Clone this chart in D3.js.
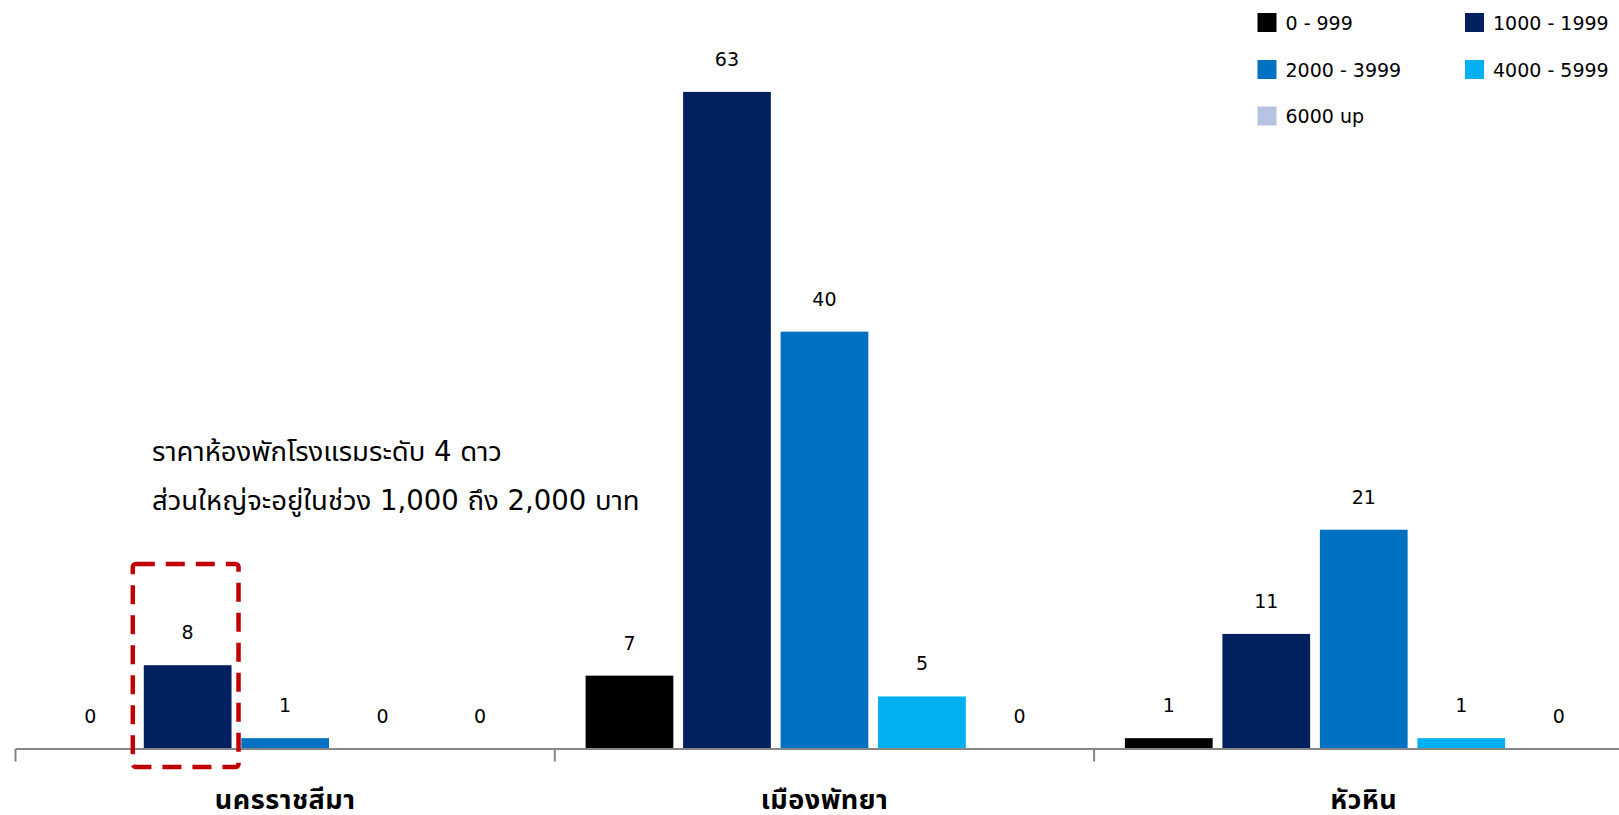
<!DOCTYPE html>
<html>
<head>
<meta charset="utf-8">
<script src="https://cdn.jsdelivr.net/npm/d3@7"></script>
<style>
  html, body { margin: 0; padding: 0; background: #ffffff; }
  svg { display: block; }
  text { font-family: "DejaVu Sans", Tahoma, "Noto Sans Thai", sans-serif; }
</style>
</head>
<body>
<div id="chart"></div>
<script>
// ---- data ----
const categories = ["นครราชสีมา", "เมืองพัทยา", "หัวหิน"];
const seriesNames = ["0 - 999", "1000 - 1999", "2000 - 3999", "4000 - 5999", "6000 up"];
const s0to999 = [0, 7, 1];
const s1000to1999 = [8, 63, 11];
const s2000to3999 = [1, 40, 21];
const s4000to5999 = [0, 5, 1];
const s6000up = [0, 0, 0];
const seriesColors = ["#000000", "#002060", "#0070C0", "#00B0F0", "#B7C3E2"];
const noteLines = ["ราคาห้องพักโรงแรมระดับ 4 ดาว", "ส่วนใหญ่จะอยู่ในช่วง 1,000 ถึง 2,000 บาท"];
const yMax = 70;

const seriesValues = [s0to999, s1000to1999, s2000to3999, s4000to5999, s6000up];

const W = 1619, H = 815;
const svg = d3.select("#chart").append("svg").attr("width", W).attr("height", H);

const axisY = 748.6;
const x0 = d3.scaleBand().domain(categories).range([15.5, 15.5 + 3 * 539.3]).paddingInner(0).paddingOuter(0);
const x1 = d3.scaleBand().domain(seriesNames).range([0, x0.bandwidth()]).paddingInner(0.1).paddingOuter(0.316);
const y = d3.scaleLinear().domain([0, yMax]).range([axisY, axisY - yMax * 10.424]);

const rows = [];
categories.forEach((c, ci) => {
  seriesNames.forEach((s, si) => {
    rows.push({ cat: c, ser: s, si, value: seriesValues[si][ci] });
  });
});

// bars
svg.append("g").selectAll("rect").data(rows).join("rect")
  .attr("x", d => x0(d.cat) + x1(d.ser))
  .attr("y", d => y(d.value))
  .attr("width", x1.bandwidth())
  .attr("height", d => axisY - y(d.value))
  .attr("fill", d => seriesColors[d.si]);

// value labels
svg.append("g").selectAll("text").data(rows).join("text")
  .attr("x", d => x0(d.cat) + x1(d.ser) + x1.bandwidth() / 2)
  .attr("y", d => y(d.value) - 33)
  .attr("text-anchor", "middle")
  .attr("dominant-baseline", "central")
  .attr("font-size", 19)
  .attr("fill", "#000")
  .text(d => d.value);

// x axis
const xAxis = d3.axisBottom(x0).tickSize(0).tickFormat("");
const axisG = svg.append("g").attr("transform", `translate(0,${axisY})`).call(xAxis);
axisG.select(".domain").attr("stroke", "#868686").attr("stroke-width", 2);
axisG.selectAll(".tick").remove();
// category boundary ticks
const bounds = categories.map(c => x0(c));
axisG.selectAll("line.bound").data(bounds).join("line")
  .attr("class", "bound")
  .attr("x1", d => d).attr("x2", d => d)
  .attr("y1", 0).attr("y2", 13)
  .attr("stroke", "#868686").attr("stroke-width", 2);

// category labels
svg.append("g").selectAll("text").data(categories).join("text")
  .attr("x", d => x0(d) + x0.bandwidth() / 2)
  .attr("y", 799)
  .attr("text-anchor", "middle")
  .attr("dominant-baseline", "central")
  .attr("font-size", 27)
  .attr("font-weight", "bold")
  .attr("letter-spacing", 0.5)
  .attr("fill", "#000")
  .text(d => d);

// annotation
svg.append("g").selectAll("text").data(noteLines).join("text")
  .attr("x", 152)
  .attr("y", (d, i) => 451 + i * 49)
  .attr("dominant-baseline", "central")
  .attr("font-size", 27.5)
  .attr("fill", "#000")
  .text(d => d);

// highlight box around 1000-1999 bar of first category
const hx = x0(categories[0]) + x1(seriesNames[1]);
svg.append("rect")
  .attr("x", hx - 11)
  .attr("y", 564)
  .attr("width", x1.bandwidth() + 18)
  .attr("height", 203)
  .attr("rx", 3)
  .attr("fill", "none")
  .attr("stroke", "#C00000")
  .attr("stroke-width", 4.5)
  .attr("stroke-dasharray", "19 11");

// legend
const legendPos = [[1257.5, 22.5], [1465, 22.5], [1257.5, 69.5], [1465, 69.5], [1257.5, 116]];
const lg = svg.append("g").selectAll("g").data(seriesNames).join("g")
  .attr("transform", (d, i) => `translate(${legendPos[i][0]},${legendPos[i][1]})`);
lg.append("rect").attr("x", 0).attr("y", -9.5).attr("width", 19).attr("height", 19)
  .attr("fill", (d, i) => seriesColors[i]);
lg.append("text").attr("x", 28).attr("y", 0)
  .attr("dominant-baseline", "central")
  .attr("font-size", 19)
  .attr("fill", "#000")
  .text(d => d);
</script>
</body>
</html>
